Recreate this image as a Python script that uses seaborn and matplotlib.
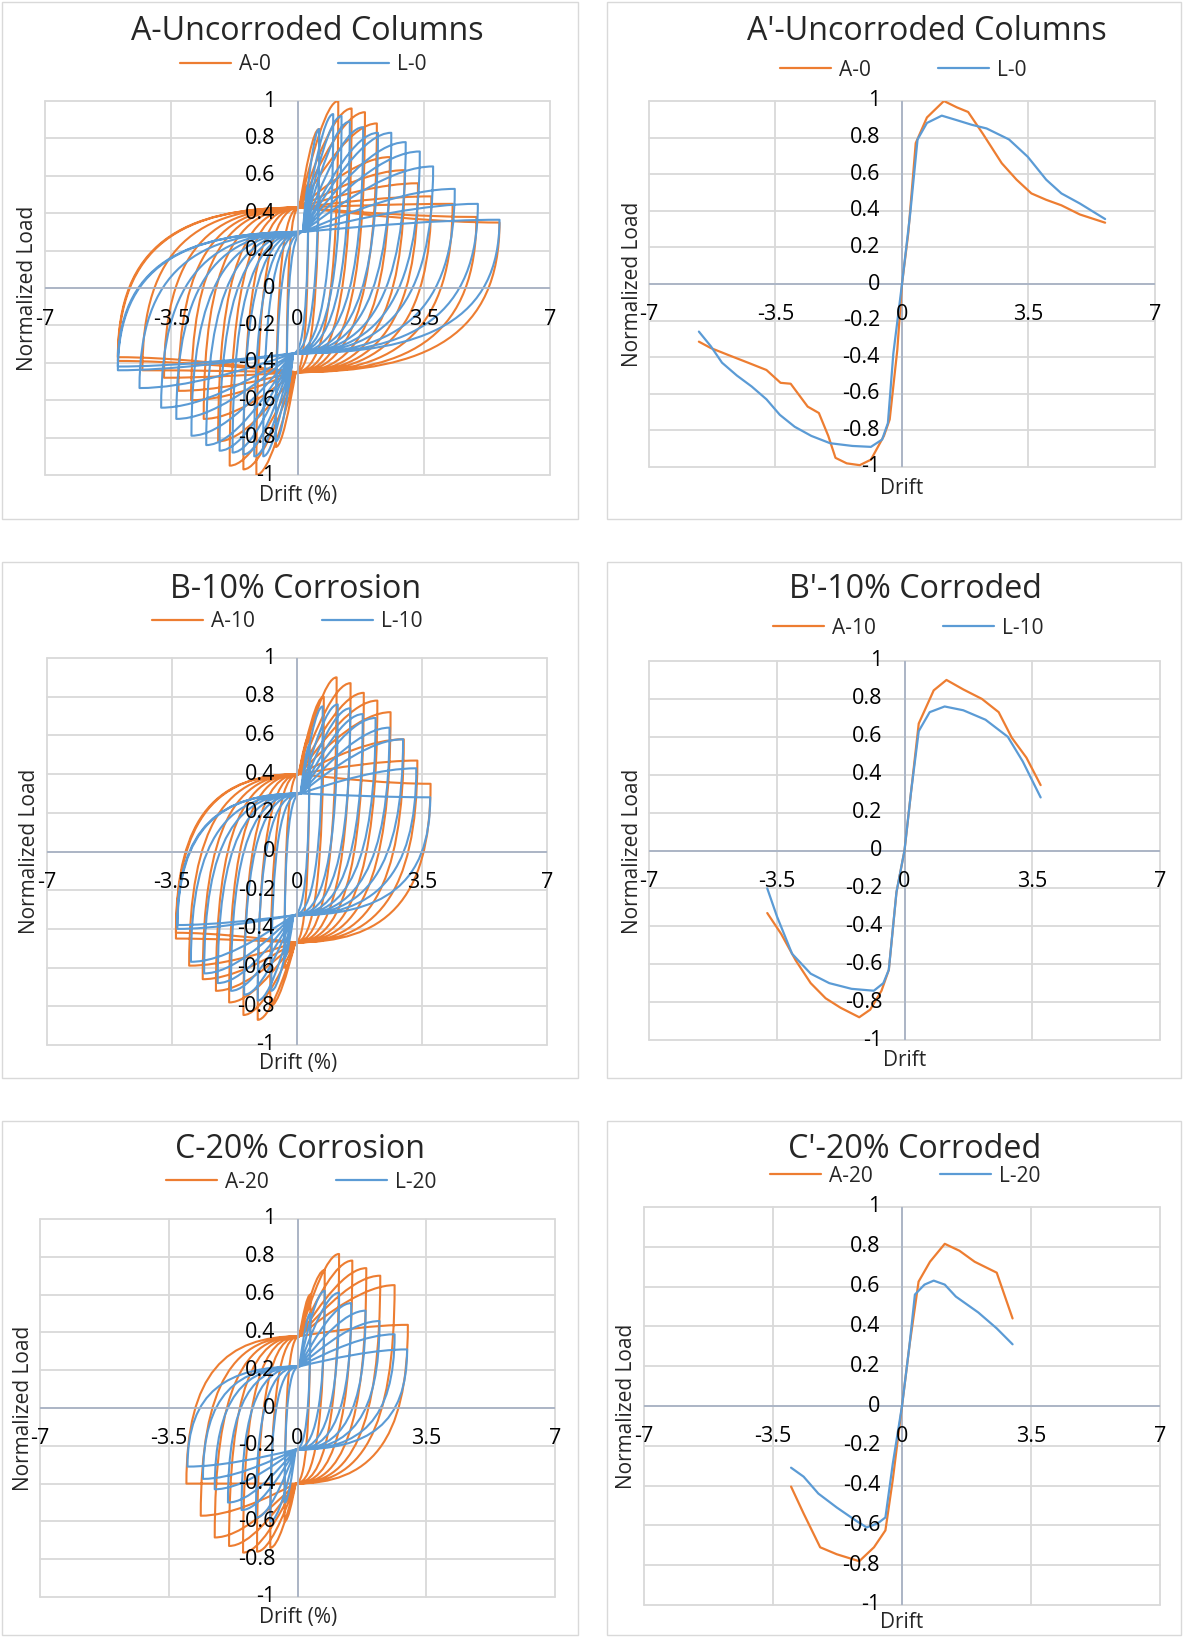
import numpy as np
import pandas as pd
import matplotlib
matplotlib.use("Agg")
import matplotlib.pyplot as plt
import seaborn as sns
from matplotlib.path import Path
from matplotlib.patches import PathPatch, Rectangle
from matplotlib.lines import Line2D
import matplotlib.transforms as mtransforms

# ------------------------------------------------------------------ data
x_ticks = [-7, -3.5, 0, 3.5, 7]
x_tick_labels = ["-7", "-3.5", "0", "3.5", "7"]
y_ticks = [1, 0.8, 0.6, 0.4, 0.2, 0, -0.2, -0.4, -0.6, -0.8, -1]
y_tick_labels = ["1", "0.8", "0.6", "0.4", "0.2", "0", "-0.2", "-0.4", "-0.6", "-0.8", "-1"]

titles = ["A-Uncorroded Columns", "A'-Uncorroded Columns",
          "B-10% Corrosion", "B'-10% Corroded",
          "C-20% Corrosion", "C'-20% Corroded"]
series_names = [("A-0", "L-0"), ("A-0", "L-0"), ("A-10", "L-10"),
                ("A-10", "L-10"), ("A-20", "L-20"), ("A-20", "L-20")]
x_labels = ["Drift (%)", "Drift", "Drift (%)", "Drift", "Drift (%)", "Drift"]
y_label = "Normalized Load"

# hysteresis cycle peaks (drift %, normalized load) and pinching points
a0_pos_drift = [0.30, 0.60, 1.13, 1.50, 1.87, 2.20, 2.56, 2.97, 3.34, 3.71, 4.30, 4.96, 5.60]
a0_pos_load = [0.55, 0.85, 1.00, 0.96, 0.94, 0.88, 0.70, 0.63, 0.56, 0.49, 0.45, 0.38, 0.35]
a0_neg_drift = [-0.30, -0.60, -1.14, -1.50, -1.88, -2.20, -2.60, -2.95, -3.30, -3.70, -4.30, -4.98, -4.98]
a0_neg_load = [-0.55, -0.85, -1.00, -0.97, -0.95, -0.82, -0.70, -0.60, -0.55, -0.48, -0.44, -0.39, -0.37]
a0_pinch = [0.05, 0.43, -0.05, -0.45]

l0_pos_drift = [0.30, 0.60, 0.99, 1.22, 1.45, 1.82, 2.23, 2.60, 3.00, 3.39, 3.76, 4.36, 5.00, 5.60]
l0_pos_load = [0.55, 0.85, 0.93, 0.92, 0.89, 0.86, 0.83, 0.83, 0.78, 0.73, 0.65, 0.53, 0.45, 0.365]
l0_neg_drift = [-0.30, -0.60, -0.95, -1.20, -1.50, -1.80, -2.16, -2.53, -2.94, -3.36, -3.78, -4.38, -4.98, -4.98]
l0_neg_load = [-0.55, -0.82, -0.90, -0.90, -0.89, -0.88, -0.87, -0.84, -0.79, -0.70, -0.64, -0.535, -0.44, -0.42]
l0_pinch = [0.15, 0.30, -0.12, -0.35]

a10_pos_drift = [0.35, 0.75, 1.11, 1.50, 1.87, 2.25, 2.62, 2.99, 3.37, 3.74]
a10_pos_load = [0.60, 0.80, 0.90, 0.87, 0.82, 0.78, 0.72, 0.58, 0.47, 0.35]
a10_neg_drift = [-0.35, -0.75, -1.10, -1.50, -1.90, -2.27, -2.64, -3.02, -3.39, -3.39]
a10_neg_load = [-0.60, -0.80, -0.87, -0.845, -0.78, -0.72, -0.66, -0.59, -0.45, -0.42]
a10_pinch = [0.05, 0.40, -0.05, -0.47]

l10_pos_drift = [0.35, 0.72, 1.14, 1.49, 1.84, 2.20, 2.59, 2.97, 3.34, 3.73]
l10_pos_load = [0.55, 0.75, 0.76, 0.74, 0.71, 0.69, 0.64, 0.58, 0.43, 0.28]
l10_neg_drift = [-0.35, -0.72, -1.10, -1.48, -1.85, -2.22, -2.60, -2.97, -3.35, -3.35]
l10_neg_load = [-0.55, -0.72, -0.77, -0.74, -0.72, -0.68, -0.63, -0.57, -0.40, -0.38]
l10_pinch = [0.10, 0.30, -0.10, -0.33]

a20_pos_drift = [0.35, 0.74, 1.13, 1.49, 1.87, 2.25, 2.64, 3.00]
a20_pos_load = [0.60, 0.73, 0.815, 0.78, 0.74, 0.70, 0.65, 0.44]
a20_neg_drift = [-0.35, -0.74, -1.10, -1.48, -1.86, -2.25, -2.63, -3.02]
a20_neg_load = [-0.60, -0.74, -0.76, -0.765, -0.73, -0.685, -0.57, -0.40]
a20_pinch = [0.05, 0.38, -0.05, -0.40]

l20_pos_drift = [0.35, 0.74, 1.13, 1.46, 1.85, 2.23, 2.64, 2.98]
l20_pos_load = [0.50, 0.62, 0.61, 0.555, 0.515, 0.46, 0.39, 0.31]
l20_neg_drift = [-0.35, -0.74, -1.13, -1.52, -1.89, -2.25, -2.57, -2.99]
l20_neg_load = [-0.50, -0.60, -0.58, -0.54, -0.50, -0.43, -0.375, -0.31]
l20_pinch = [0.05, 0.22, -0.05, -0.22]

# envelope (backbone) curves
a0_env_drift = [-5.62, -5.29, -4.78, -4.26, -3.75, -3.36, -3.08, -2.61, -2.30, -2.04, -1.84, -1.53, -1.17,
                -0.86, -0.50, -0.34, -0.13, 0.0, 0.175, 0.38, 0.69, 1.16, 1.52, 1.83, 2.24, 2.76, 3.17,
                3.58, 3.99, 4.41, 4.92, 5.62]
a0_env_load = [-0.315, -0.35, -0.39, -0.43, -0.47, -0.54, -0.545, -0.67, -0.705, -0.83, -0.95, -0.98, -0.99,
               -0.96, -0.83, -0.74, -0.36, 0.0, 0.28, 0.77, 0.91, 1.00, 0.965, 0.94, 0.82, 0.66, 0.57,
               0.495, 0.46, 0.43, 0.38, 0.335]
l0_env_drift = [-5.62, -5.29, -4.98, -4.57, -4.16, -3.75, -3.38, -2.97, -2.51, -1.99, -1.37, -0.86, -0.55,
                -0.39, -0.24, 0.0, 0.23, 0.43, 0.69, 1.10, 1.52, 1.93, 2.34, 2.96, 3.48, 3.99, 4.41, 4.92, 5.62]
l0_env_load = [-0.26, -0.34, -0.43, -0.50, -0.56, -0.63, -0.715, -0.78, -0.83, -0.87, -0.885, -0.89, -0.85,
               -0.76, -0.38, 0.0, 0.39, 0.79, 0.88, 0.92, 0.895, 0.87, 0.85, 0.79, 0.695, 0.57, 0.495, 0.44, 0.355]

a10_env_drift = [-3.76, -3.38, -2.98, -2.57, -2.16, -1.75, -1.24, -0.94, -0.63, -0.43, -0.22, 0.0, 0.18,
                 0.39, 0.80, 1.15, 1.61, 2.12, 2.58, 2.94, 3.34, 3.73]
a10_env_load = [-0.33, -0.44, -0.58, -0.70, -0.78, -0.83, -0.88, -0.84, -0.74, -0.63, -0.22, 0.0, 0.31,
                0.67, 0.845, 0.90, 0.85, 0.80, 0.73, 0.595, 0.49, 0.345]
l10_env_drift = [-3.76, -3.49, -3.08, -2.57, -2.06, -1.45, -0.84, -0.58, -0.43, -0.22, 0.0, 0.18, 0.39,
                 0.69, 1.10, 1.61, 2.22, 2.83, 3.24, 3.73]
l10_env_load = [-0.20, -0.35, -0.545, -0.65, -0.70, -0.73, -0.74, -0.70, -0.63, -0.22, 0.0, 0.31, 0.63,
                0.73, 0.76, 0.74, 0.69, 0.60, 0.47, 0.28]

a20_env_drift = [-3.01, -2.67, -2.22, -1.77, -1.16, -0.76, -0.45, -0.25, 0.0, 0.20, 0.45, 0.76, 1.16,
                 1.56, 1.97, 2.57, 3.00]
a20_env_load = [-0.405, -0.54, -0.71, -0.745, -0.78, -0.71, -0.625, -0.37, 0.0, 0.30, 0.625, 0.725, 0.815,
                0.78, 0.725, 0.67, 0.44]
l20_env_drift = [-3.01, -2.67, -2.27, -1.77, -1.26, -0.96, -0.66, -0.45, -0.25, 0.0, 0.20, 0.35, 0.61,
                 0.86, 1.16, 1.46, 2.07, 2.57, 3.00]
l20_env_load = [-0.31, -0.355, -0.44, -0.51, -0.575, -0.61, -0.59, -0.56, -0.29, 0.0, 0.30, 0.56, 0.61,
                0.63, 0.61, 0.55, 0.47, 0.39, 0.31]

# ------------------------------------------------------------------ style / layout
W, H, DPI = 1183, 1637, 100
ORANGE, BLUE = "#ED7D31", "#5B9BD5"
GRID, AXIS, BOX = "#D9D9D9", "#A8B3C4", "#D9D9D9"
FS = 15.5

sns.set_theme(style="white")
plt.rcParams["font.family"] = ["Open Sans", "DejaVu Sans"]

fig = plt.figure(figsize=(W / DPI, H / DPI), dpi=DPI)
fig.patch.set_facecolor("white")

# panel frames (px): x0, y0, x1, y1
boxes = [(2, 2, 578, 519), (607, 2, 1181, 519),
         (2, 562, 578, 1078), (607, 562, 1181, 1078),
         (2, 1121, 578, 1635), (607, 1121, 1181, 1635)]
# plot areas (px): left, right, top, bottom
areas = [(45, 550, 101, 475), (649, 1155, 101, 467),
         (47, 547, 658, 1045), (649, 1160, 661, 1040),
         (40, 555, 1219, 1597), (644, 1160, 1207, 1605)]
title_pos = [(307, 31, 353), (927, 31, 360), (296, 590, 251), (915, 590, 253),
             (300, 1150, 250), (915, 1150, 254)]
legend_pos = [(180, 65), (780, 70), (152, 622), (773, 628), (166, 1182), (770, 1176)]
ylabel_pos = [(28, 288), (633, 284), (30, 851), (632, 851), (24, 1408), (627, 1406)]
xlabel_pos = [(298, 495), (902, 488), (298, 1064), (905, 1061), (298, 1618), (902, 1622)]


def fx(x):
    return x / W


def fy(y):
    return 1 - y / H


for (x0, y0, x1, y1) in boxes:
    fig.add_artist(Rectangle((fx(x0), fy(y1)), fx(x1 - x0), (y1 - y0) / H,
                             transform=fig.transFigure, fill=False, edgecolor=BOX, lw=1.0))


def make_axes(i):
    l, r, t, b = areas[i]
    ax = fig.add_axes([fx(l), fy(b), (r - l) / W, (b - t) / H])
    ax.set_xlim(-7, 7)
    ax.set_ylim(-1, 1)
    ax.set_xticks(x_ticks)
    ax.set_yticks(y_ticks)
    ax.grid(True, color=GRID, lw=1.3)
    for gl in ax.get_xgridlines() + ax.get_ygridlines():
        gl.set_clip_on(False)
    ax.tick_params(length=0, labelbottom=False, labelleft=False)
    for s in ax.spines.values():
        s.set_visible(False)
    ax.axhline(0, color=AXIS, lw=1.3, zorder=1.5)
    ax.axvline(0, color=AXIS, lw=1.3, zorder=1.5)
    ax.set_facecolor("white")
    ytr = mtransforms.offset_copy(ax.transData, fig=fig, x=-22, y=0, units="dots")
    for v, lab in zip(y_ticks, y_tick_labels):
        ax.text(0, v, lab, transform=ytr, ha="right", va="center", fontsize=FS,
                color="black", zorder=10)
    xtr = mtransforms.offset_copy(ax.transData, fig=fig, x=0, y=-31, units="dots")
    for v, lab in zip(x_ticks, x_tick_labels):
        ax.text(v, 0, lab, transform=xtr, ha="center", va="center", fontsize=FS,
                color="black", zorder=10, clip_on=False)
    return ax


def hysteresis_patch(pos_d, pos_f, neg_d, neg_f, pinch, color):
    qp = (pinch[0], pinch[1])
    qn = (pinch[2], pinch[3])
    verts = [qp]
    codes = [Path.MOVETO]

    def load(q, p):
        dx, dy = p[0] - q[0], p[1] - q[1]
        verts.extend([(q[0] + 0.33 * dx, q[1] + 0.5 * dy), (q[0] + 0.7 * dx, p[1]), p])
        codes.extend([Path.CURVE4] * 3)

    def unload(p, q):
        dx, dy = q[0] - p[0], q[1] - p[1]
        verts.extend([(p[0], p[1] + 0.75 * dy), (p[0] + 0.35 * dx, q[1]), q])
        codes.extend([Path.CURVE4] * 3)

    for dp, fp, dn, fn in zip(pos_d, pos_f, neg_d, neg_f):
        load(qp, (dp, fp))
        unload((dp, fp), qn)
        load(qn, (dn, fn))
        unload((dn, fn), qp)
    return PathPatch(Path(verts, codes), fill=False, edgecolor=color, lw=1.5,
                     joinstyle="round", capstyle="round")


hyst = {
    0: [(a0_pos_drift, a0_pos_load, a0_neg_drift, a0_neg_load, a0_pinch, ORANGE),
        (l0_pos_drift, l0_pos_load, l0_neg_drift, l0_neg_load, l0_pinch, BLUE)],
    2: [(a10_pos_drift, a10_pos_load, a10_neg_drift, a10_neg_load, a10_pinch, ORANGE),
        (l10_pos_drift, l10_pos_load, l10_neg_drift, l10_neg_load, l10_pinch, BLUE)],
    4: [(a20_pos_drift, a20_pos_load, a20_neg_drift, a20_neg_load, a20_pinch, ORANGE),
        (l20_pos_drift, l20_pos_load, l20_neg_drift, l20_neg_load, l20_pinch, BLUE)],
}
env = {
    1: [(a0_env_drift, a0_env_load, ORANGE), (l0_env_drift, l0_env_load, BLUE)],
    3: [(a10_env_drift, a10_env_load, ORANGE), (l10_env_drift, l10_env_load, BLUE)],
    5: [(a20_env_drift, a20_env_load, ORANGE), (l20_env_drift, l20_env_load, BLUE)],
}

for i in range(6):
    ax = make_axes(i)
    if i in hyst:
        for pd_, pf, nd, nf, pinch, col in hyst[i]:
            ax.add_patch(hysteresis_patch(pd_, pf, nd, nf, pinch, col))
    else:
        for xd, yd, col in env[i]:
            df = pd.DataFrame({"drift": xd, "load": yd})
            sns.lineplot(data=df, x="drift", y="load", sort=False, estimator=None,
                         color=col, lw=1.6, ax=ax, legend=False)
            ax.lines[-1].set_solid_joinstyle("round")
    ax.set_xlabel("")
    ax.set_ylabel("")

    # legend
    lx, ly = legend_pos[i]
    handles = [Line2D([], [], color=ORANGE, lw=1.6), Line2D([], [], color=BLUE, lw=1.6)]
    fig.legend(handles, list(series_names[i]), loc="center left",
               bbox_to_anchor=(fx(lx), fy(ly)), bbox_transform=fig.transFigure,
               ncol=2, frameon=False, fontsize=15, handlelength=2.45,
               handletextpad=0.36, columnspacing=3.25, borderpad=0, borderaxespad=0)

    # axis labels
    yx, yy = ylabel_pos[i]
    fig.text(fx(yx), fy(yy), y_label, rotation=90, ha="center", va="center", fontsize=15)
    xx, xy = xlabel_pos[i]
    fig.text(fx(xx), fy(xy), x_labels[i], ha="center", va="center", fontsize=15)

# titles, fitted to the measured width
renderer = fig.canvas.get_renderer()
for (tx, ty, tw), ttl in zip(title_pos, titles):
    t = fig.text(fx(tx), fy(ty), ttl, ha="center", va="center", fontsize=22)
    w = t.get_window_extent(renderer).width
    t.set_fontsize(22 * tw / w)

fig.savefig("out.png", dpi=DPI, facecolor="white")
